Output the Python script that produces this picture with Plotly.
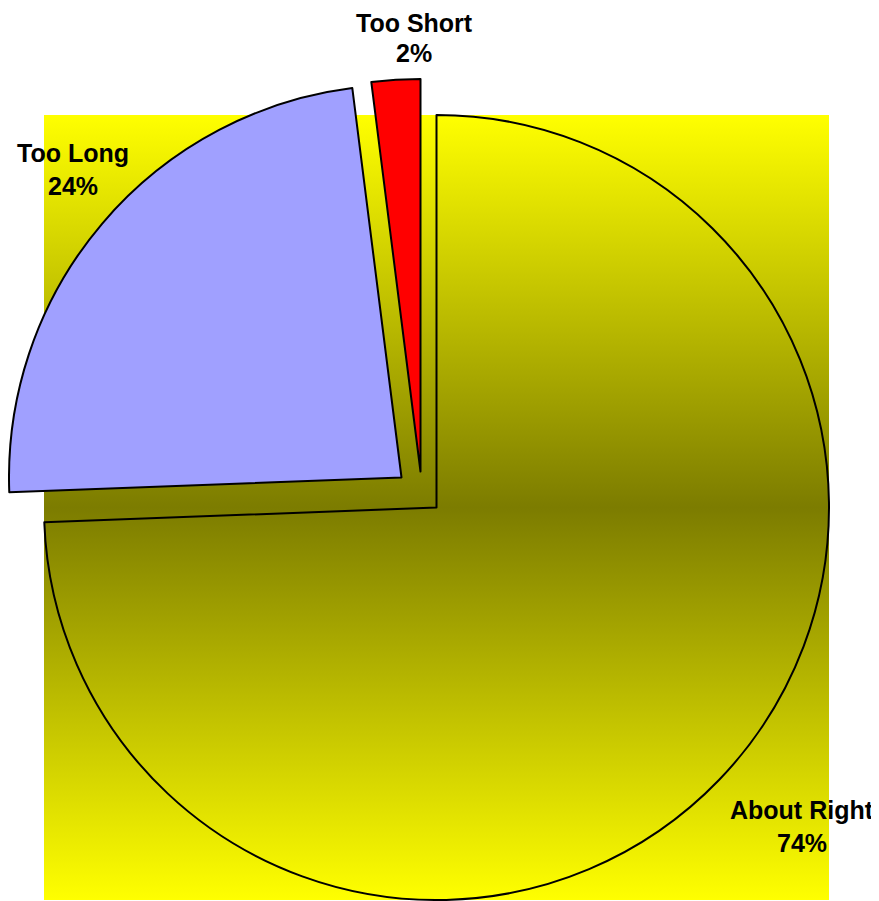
import plotly.graph_objects as go

# the page puts the figure 8px in from the top-left corner of the window
PAGE_OFF = 8
W, H = 879 - PAGE_OFF, 901 - PAGE_OFF

labels = ["About Right", "Too Long", "Too Short"]
values = [74.4, 23.6, 2.0]
colors = ["rgba(0,0,0,0)", "#A0A0FF", "#FF0000"]

# square box of the un-exploded pie, in window pixels
BOX_L, BOX_T, BOX_SIZE = 44, 115, 785
# how far each slice is pulled out (px)
offsets = [(0, 0), (-35, -30), (-16, -36)]
# label centres: x, y of name line, y of percent line (window px)
label_pos = [(802, 810, 843), (73, 153, 186), (414, 23, 53)]


def px_x(v):
    return (v - PAGE_OFF) / W


def px_y(v):
    return 1 - (v - PAGE_OFF) / H


fig = go.Figure()

# gradient backdrop behind the pie
fig.add_trace(go.Scatter(
    x=[0, 1, 1, 0, 0], y=[0, 0, 1, 1, 0],
    fill="toself", mode="none",
    fillgradient=dict(
        type="vertical",
        colorscale=[[0, "#FFFF00"], [0.5, "#7C7C00"], [1, "#FFFF00"]],
    ),
    hoverinfo="skip", showlegend=False,
))

# one pie per slice so every slice can be moved on its own
for i, (dx, dy) in enumerate(offsets):
    fig.add_trace(go.Pie(
        labels=labels, values=values,
        sort=False, direction="clockwise", rotation=0,
        marker=dict(
            colors=[c if j == i else "rgba(0,0,0,0)" for j, c in enumerate(colors)],
            line=dict(color="black", width=[2 if j == i else 0 for j in range(len(labels))]),
        ),
        textinfo="none", hoverinfo="label+percent", showlegend=False,
        domain=dict(
            x=[px_x(BOX_L + dx), px_x(BOX_L + BOX_SIZE + dx)],
            y=[px_y(BOX_T + BOX_SIZE + dy), px_y(BOX_T + dy)],
        ),
    ))

total = sum(values)
for lab, val, (x, y1, y2) in zip(labels, values, label_pos):
    for txt, y in ((lab, y1), (f"{round(val / total * 100)}%", y2)):
        fig.add_annotation(
            x=px_x(x), y=px_y(y), xref="paper", yref="paper",
            text=f"<b>{txt}</b>", showarrow=False,
            xanchor="center", yanchor="middle", borderpad=0,
            font=dict(family="Liberation Sans, Arial", size=25, color="black"),
        )

fig.update_layout(
    width=W, height=H,
    margin=dict(l=0, r=0, t=0, b=0),
    paper_bgcolor="white", plot_bgcolor="rgba(0,0,0,0)",
    xaxis=dict(domain=[px_x(BOX_L), px_x(BOX_L + BOX_SIZE)], range=[0, 1], visible=False),
    yaxis=dict(domain=[px_y(BOX_T + BOX_SIZE), px_y(BOX_T)], range=[0, 1], visible=False),
    showlegend=False,
)

fig.write_html("out.html")
